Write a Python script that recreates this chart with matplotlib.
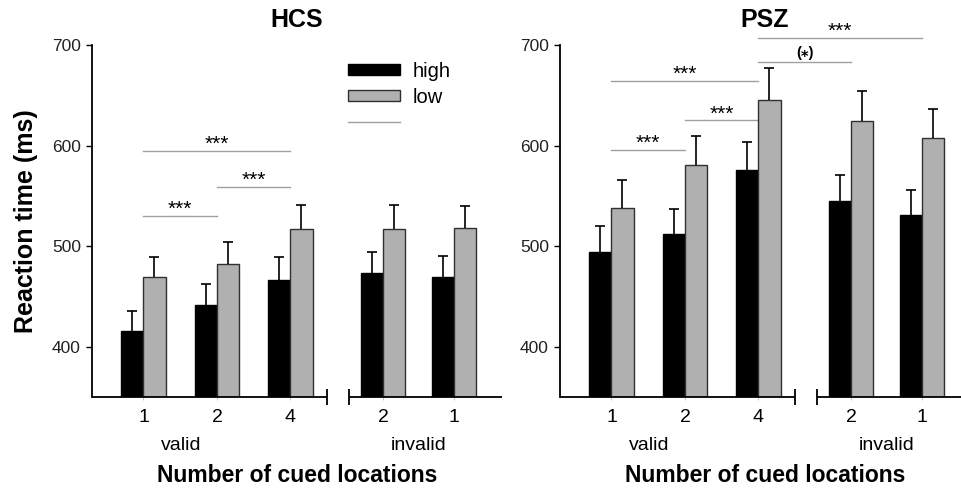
import matplotlib
matplotlib.use('Agg')
import matplotlib.pyplot as plt
from matplotlib.patches import Patch
from matplotlib.lines import Line2D

plt.rcParams['font.family'] = ['Liberation Sans', 'DejaVu Sans']

# ---------------- data ----------------
tick_labels = ['1', '2', '4', '2', '1']
condition_labels = ['valid', 'invalid']
series_labels = ['high', 'low']
panel_titles = ['HCS', 'PSZ']

hcs_high = [416, 441, 466, 473, 469]
hcs_high_err = [20, 21, 23, 21, 21]
hcs_low = [469, 482, 517, 517, 518]
hcs_low_err = [20, 22, 24, 24, 22]

psz_high = [494, 512, 576, 545, 531]
psz_high_err = [26, 25, 28, 26, 25]
psz_low = [538, 581, 645, 624, 608]
psz_low_err = [28, 29, 32, 30, 28]

# significance brackets: (from group, to group, level in ms, label)
hcs_sig = [(0, 2, 595, '***'), (1, 2, 559, '***'), (0, 1, 530, '***')]
psz_sig = [(2, 4, 707, '***'), (2, 3, 683, '(\u204e)'), (0, 2, 664, '***'),
           (1, 2, 625, '***'), (0, 1, 596, '***')]

# ---------------- layout ----------------
W, H = 961, 488
fig = plt.figure(figsize=(W / 100, H / 100), dpi=100)

pos = [1.0, 2.0, 3.0, 4.26, 5.22]
bw = 0.30
px_per_unit = 73.5
ax_w_px = 410
xmin = 0.3
xmax = xmin + ax_w_px / px_per_unit
ymin, ymax = 350, 700
brk0, brk1 = 3.50, 3.79
gray = '#b0b0b0'


def upper_errorbar(ax, x, y, err):
    line, caps, bars = ax.errorbar(x, y, yerr=[[0] * len(y), err], fmt='none',
                                   ecolor='black', elinewidth=1.2, capsize=3.5,
                                   capthick=1.2, zorder=3)
    if len(caps) >= 2:
        caps[0].set_visible(False)


def panel(left_px, title, high, high_err, low, low_err, sig, show_ylabel, show_legend):
    ax = fig.add_axes([left_px / W, (H - 397) / H, ax_w_px / W, 352 / H])
    ax.set_xlim(xmin, xmax)
    ax.set_ylim(ymin, ymax)
    xh = [p - bw / 2 for p in pos]
    xl = [p + bw / 2 for p in pos]
    ax.bar(xh, high, width=bw, color='black', edgecolor='black',
           linewidth=1.0, zorder=2, label=series_labels[0])
    ax.bar(xl, low, width=bw, color=gray, edgecolor='#303030',
           linewidth=1.0, zorder=2, label=series_labels[1])
    upper_errorbar(ax, xh, high, high_err)
    upper_errorbar(ax, xl, low, low_err)

    for s in ['top', 'right', 'bottom']:
        ax.spines[s].set_visible(False)
    ax.spines['left'].set_linewidth(1.3)

    # broken x axis
    kw = dict(color='black', lw=1.3, clip_on=False, solid_capstyle='butt')
    ax.plot([xmin, brk0], [ymin, ymin], **kw)
    ax.plot([brk1, xmax], [ymin, ymin], **kw)
    ax.plot([brk0, brk0], [ymin - 8, ymin + 8], **kw)
    ax.plot([brk1, brk1], [ymin - 8, ymin + 8], **kw)

    ax.set_yticks([400, 500, 600, 700])
    ax.tick_params(axis='y', direction='out', length=4, width=1.0,
                   labelsize=12.5, pad=4, labelcolor='#222222')
    ax.set_xticks(pos)
    ax.set_xticklabels(tick_labels)
    ax.tick_params(axis='x', direction='out', length=2, width=0.6, color='#bbbbbb',
                   labelsize=14, pad=6.5)

    ax.text(1.52, 302, condition_labels[0], ha='center', va='center', fontsize=14)
    ax.text(4.75, 302, condition_labels[1], ha='center', va='center', fontsize=14)

    ax.set_xlabel('Number of cued locations', fontsize=16.5, fontweight='bold', labelpad=27.5)
    ax.set_title(title, fontsize=18, fontweight='bold', pad=13)
    if show_ylabel:
        ax.set_ylabel('Reaction time (ms)', fontsize=18, fontweight='bold', labelpad=10)

    for g0, g1, lev, lab in sig:
        ax.plot([pos[g0], pos[g1]], [lev, lev], color='#a0a0a0', lw=1.0,
                clip_on=False, zorder=1)
        mid = (pos[g0] + pos[g1]) / 2
        if lab == '***':
            ax.text(mid, lev + 1, lab, ha='center', va='baseline', fontsize=15,
                    clip_on=False)
        else:
            ax.text(mid, lev + 5, lab, ha='center', va='baseline', fontsize=10.5,
                    fontweight='bold', clip_on=False)

    if show_legend:
        handles = [Patch(facecolor='black', edgecolor='black'),
                   Patch(facecolor=gray, edgecolor='#303030'),
                   Line2D([0], [0], color='#a0a0a0', lw=1.0)]
        ax.legend(handles, ['high', 'low', ' '], loc='upper left',
                  bbox_to_anchor=((348 - left_px) / ax_w_px, (397 - 62) / 352),
                  frameon=False, fontsize=14.5, handlelength=2.6, handleheight=0.48,
                  handletextpad=0.6, labelspacing=0.34, borderpad=0, borderaxespad=0)
    return ax


panel(92, panel_titles[0], hcs_high, hcs_high_err, hcs_low, hcs_low_err, hcs_sig, True, True)
panel(560, panel_titles[1], psz_high, psz_high_err, psz_low, psz_low_err, psz_sig, False, False)

fig.savefig('out.png', dpi=100)
